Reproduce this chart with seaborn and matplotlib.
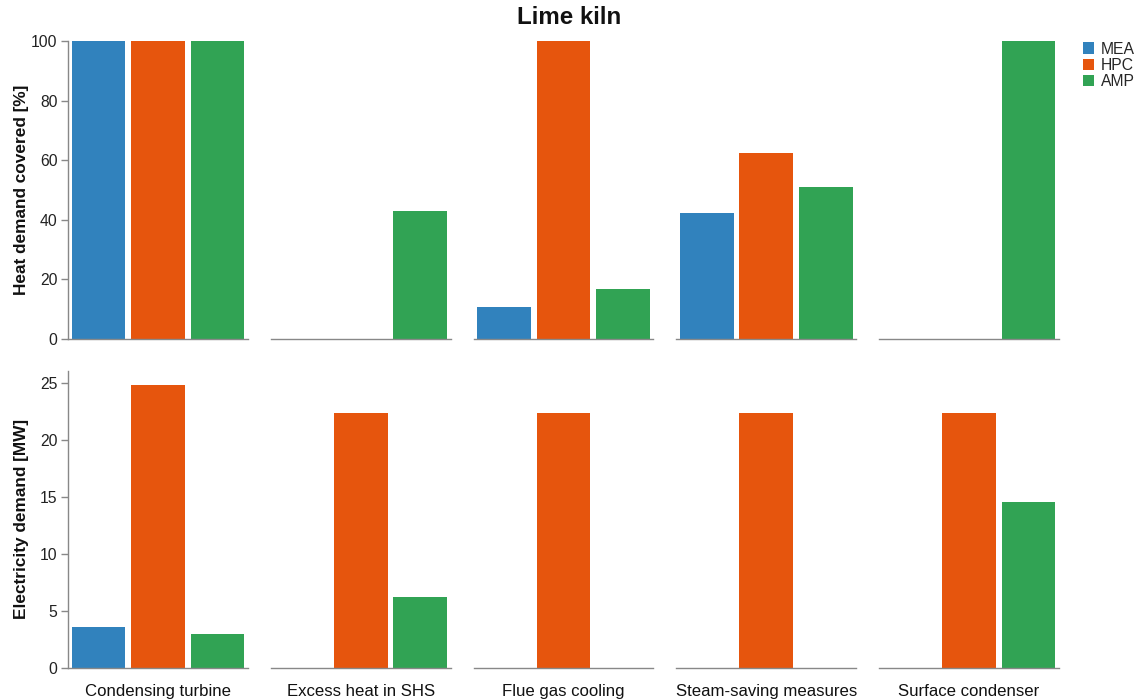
import matplotlib
matplotlib.use("Agg")
import matplotlib.pyplot as plt
from matplotlib.patches import Patch
import seaborn as sns
import pandas as pd

sns.set_theme(style="white")
plt.rcParams["font.family"] = ["Liberation Sans", "DejaVu Sans"]

# Data
scenarios = ["Condensing turbine", "Excess heat in SHS", "Flue gas cooling",
             "Steam-saving measures", "Surface condenser"]
methods = ["MEA", "HPC", "AMP"]
colors = ["#3182bd", "#e6550d", "#31a354"]

heat_mea = [100, 0, 10.6, 42.2, 0]
heat_hpc = [100, 0, 100, 62.3, 0]
heat_amp = [100, 43.0, 16.7, 50.9, 100]

elec_mea = [3.62, 0, 0, 0, 0]
elec_hpc = [24.83, 22.35, 22.35, 22.35, 22.38]
elec_amp = [2.98, 6.25, 0, 0, 14.58]

rows = []
for i, sc in enumerate(scenarios):
    for m, hv, ev in zip(methods, (heat_mea[i], heat_hpc[i], heat_amp[i]),
                         (elec_mea[i], elec_hpc[i], elec_amp[i])):
        rows.append({"scenario": sc, "method": m, "heat": hv, "elec": ev})
df = pd.DataFrame(rows)
palette = dict(zip(methods, colors))

W, H = 1139, 699
fig = plt.figure(figsize=(W / 100, H / 100), dpi=100)

def px_axes(x0, y_top, w, h):
    return fig.add_axes([x0 / W, 1 - (y_top + h) / H, w / W, h / H])

axis_gray = "#888888"
text_dark = "#111111"
lefts = [68 + 202.75 * i for i in range(5)]
panel_w = 180
row_specs = [("heat", 41, 298, (0, 100), [0, 20, 40, 60, 80, 100],
              "Heat demand covered [%]"),
             ("elec", 370.7, 297.3, (0, 26.06), [0, 5, 10, 15, 20, 25],
              "Electricity demand [MW]")]

for r, (col, top, hgt, ylim, yticks, ylabel) in enumerate(row_specs):
    for c, sc in enumerate(scenarios):
        ax = px_axes(lefts[c], top, panel_w, hgt)
        sub = df[df["scenario"] == sc]
        sns.barplot(data=sub, x="method", y=col, hue="method", order=methods,
                    hue_order=methods, palette=palette, width=0.9, dodge=False,
                    legend=False, linewidth=0, saturation=1, ax=ax)
        ax.set_xlim(-0.5125, 2.5125)
        ax.set_ylim(*ylim)
        ax.set_xticks([])
        ax.set_xlabel("")
        ax.set_ylabel("")
        for s in ["top", "right"]:
            ax.spines[s].set_visible(False)
        ax.spines["bottom"].set_color(axis_gray)
        ax.spines["bottom"].set_linewidth(1.0)
        if c == 0:
            ax.spines["left"].set_color(axis_gray)
            ax.spines["left"].set_linewidth(1.0)
            ax.set_yticks(yticks)
            ax.tick_params(axis="y", left=True, length=5, width=1,
                           color=axis_gray, labelsize=11.3, pad=2.5,
                           labelcolor="#222222")
        else:
            ax.spines["left"].set_visible(False)
            ax.set_yticks([])
        if r == 1:
            fig.text((lefts[c] + panel_w / 2) / W, 1 - 696 / H, sc,
                     ha="center", va="baseline", fontsize=12.1,
                     color=text_dark)
    # row title on the left
    fig.text(22 / W, 1 - (top + hgt / 2) / H, ylabel, rotation=90,
             ha="center", va="center", fontsize=12.4, fontweight="bold",
             color=text_dark)

fig.text(569.5 / W, 1 - 17.5 / H, "Lime kiln", ha="center", va="center",
         fontsize=17.4, fontweight="bold", color=text_dark)

handles = [Patch(facecolor=col, edgecolor="none", label=m)
           for m, col in zip(methods, colors)]
fig.legend(handles=handles, loc="upper left",
           bbox_to_anchor=(1081 / W, 1 - 40 / H), frameon=False,
           fontsize=11.3, handlelength=0.72, handleheight=0.72,
           handletextpad=0.45, labelspacing=0.08, borderaxespad=0,
           borderpad=0.1)

fig.savefig("out.png", dpi=100)
